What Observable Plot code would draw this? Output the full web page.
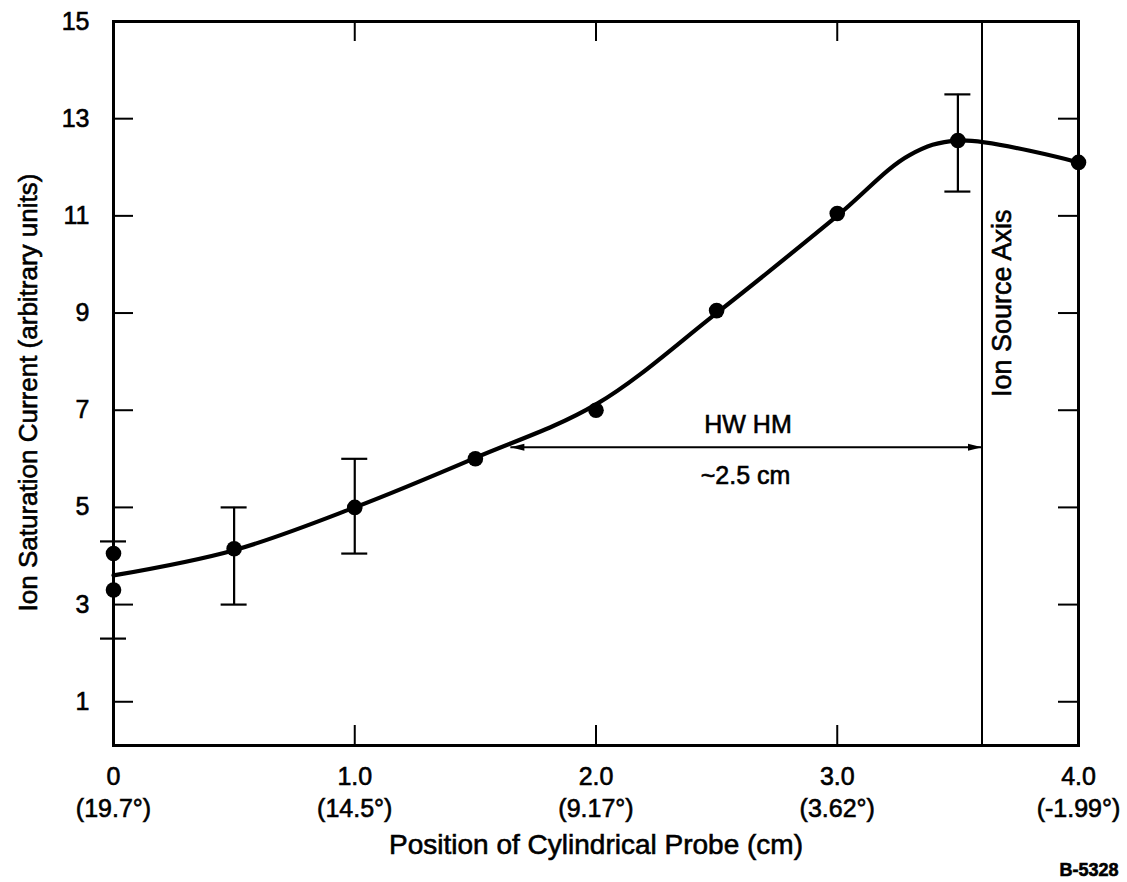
<!DOCTYPE html>
<html>
<head>
<meta charset="utf-8">
<script src="https://cdn.jsdelivr.net/npm/d3@7"></script>
<script src="https://cdn.jsdelivr.net/npm/@observablehq/plot@0.6"></script>
<style>
  html, body { margin: 0; padding: 0; background: #fff; }
  #chart svg text {
    font-family: "Liberation Sans", Arial, Helvetica, sans-serif;
    stroke: #000;
    stroke-width: 0.6px;
    paint-order: stroke;
  }
</style>
</head>
<body>
<div id="chart"></div>
<script>
// Probe position (cm) and measured ion saturation current (arbitrary units)
const positions = [0, 0, 0.5, 1.0, 1.5, 2.0, 2.5, 3.0, 3.5, 4.0];
const currents  = [4.05, 3.3, 4.15, 5.0, 6.0, 7.0, 9.05, 11.05, 12.55, 12.1];

// Error bars
const errPositions = [0, 0.5, 1.0, 3.5];
const errLow  = [2.3, 3.0, 4.05, 11.5];
const errHigh = [4.3, 5.0, 6.0, 13.5];

// Hand-drawn smooth fit through the measurements
const fitPositions = [0, 0.5, 1.0, 1.5, 2.0, 2.5, 3.0, 3.3, 3.5, 4.0];
const fitCurrents  = [3.6, 4.12, 5.0, 6.02, 7.12, 9.0, 11.0, 12.25, 12.55, 12.1];

// Axis ticks and labels
const xTicks = [0, 1, 2, 3, 4];
const xTickLabels = ["0", "1.0", "2.0", "3.0", "4.0"];
const xAngleLabels = ["(19.7°)", "(14.5°)", "(9.17°)", "(3.62°)", "(-1.99°)"];
const xInnerTicks = [1, 2, 3];
const yTicks = [1, 3, 5, 7, 9, 11, 13, 15];
const yInnerTicks = [1, 3, 5, 7, 9, 11, 13];

// Ion source axis and half width at half maximum
const sourceAxis = 3.6;
const sourceLabel = ["Ion Source Axis"];
const hwhmStart = 1.645;
const hwhmLevel = 6.24;
const annotations = [
  {x: 2.63, y: 6.7, text: "HW HM"},
  {x: 2.62, y: 5.65, text: "~2.5 cm"}
];

const xTitle = ["Position of Cylindrical Probe (cm)"];
const yTitle = ["Ion Saturation Current (arbitrary units)"];
const figureCode = ["B-5328"];

const xDomain = [0, 4];
const yDomain = [0.1, 15];

const points = positions.map((x, i) => ({x, y: currents[i]}));
const errors = errPositions.map((x, i) => ({x, low: errLow[i], high: errHigh[i]}));
const fit = fitPositions.map((x, i) => ({x, y: fitCurrents[i]}));

// double-headed dimension arrow: shaft plus a filled head at each end
const hwhmShaft = [{x1: hwhmStart, x2: sourceAxis, y: hwhmLevel}];
const hwhmHeads = [
  {x: hwhmStart, y: hwhmLevel, dir: -90},
  {x: sourceAxis, y: hwhmLevel, dir: 90}
];
const filledHead = {
  draw(context, l) {
    context.moveTo(0, -l);
    context.lineTo(-3.5, 0);
    context.lineTo(3.5, 0);
    context.closePath();
  }
};

const chart = Plot.plot({
  width: 1127,
  height: 882,
  marginLeft: 113,
  marginRight: 49,
  marginTop: 21,
  marginBottom: 137,
  style: {background: "#fff", color: "#000", fontFamily: "Liberation Sans, Arial, sans-serif"},
  x: {domain: xDomain},
  y: {domain: yDomain},
  marks: [
    // tick labels
    Plot.axisY({ticks: yTicks, tickSize: 0, tickPadding: 24, fontSize: 25, label: null}),
    Plot.axisX({ticks: xTicks, tickSize: 0, tickPadding: 22, fontSize: 25, label: null,
      tickFormat: d => xTickLabels[xTicks.indexOf(d)]}),
    Plot.axisX({ticks: xTicks, tickSize: 0, tickPadding: 54, fontSize: 25, label: null,
      tickFormat: d => xAngleLabels[xTicks.indexOf(d)]}),

    // inward tick marks on all four sides
    Plot.ruleY(yInnerTicks, {y: d => d, x1: xDomain[0], x2: xDomain[0], insetRight: -20, strokeWidth: 2}),
    Plot.ruleY(yInnerTicks, {y: d => d, x1: xDomain[1], x2: xDomain[1], insetLeft: -20, strokeWidth: 2}),
    Plot.ruleX(xInnerTicks, {x: d => d, y1: yDomain[0], y2: yDomain[0], insetTop: -20, strokeWidth: 2}),
    Plot.ruleX(xInnerTicks, {x: d => d, y1: yDomain[1], y2: yDomain[1], insetBottom: -20, strokeWidth: 2}),

    // ion source axis
    Plot.ruleX([sourceAxis], {x: d => d, strokeWidth: 2}),
    Plot.text(sourceLabel, {x: sourceAxis, y: 9.2, text: d => d, rotate: -90, dx: 20, fontSize: 27}),

    // HWHM arrow and labels
    Plot.link(hwhmShaft, {x1: "x1", x2: "x2", y1: "y", y2: "y", strokeWidth: 2}),
    Plot.vector(hwhmHeads, {x: "x", y: "y", rotate: "dir", length: 14, anchor: "end",
      shape: filledHead, fill: "#000", stroke: "none"}),
    Plot.text(annotations, {x: "x", y: "y", text: "text", fontSize: 25}),

    // error bars with caps
    Plot.ruleX(errors, {x: "x", y1: "low", y2: "high", strokeWidth: 2.2}),
    Plot.ruleY(errors, {y: "low", x1: "x", x2: "x", insetLeft: -13, insetRight: -13, strokeWidth: 2.2}),
    Plot.ruleY(errors, {y: "high", x1: "x", x2: "x", insetLeft: -13, insetRight: -13, strokeWidth: 2.2}),

    // fitted curve and measurements
    Plot.line(fit, {x: "x", y: "y", curve: "catmull-rom", strokeWidth: 4.2}),
    Plot.dot(points, {x: "x", y: "y", r: 7.8, fill: "#000"}),

    Plot.frame({strokeWidth: 3}),

    // titles
    Plot.text(yTitle, {frameAnchor: "left", text: d => d, textAnchor: "middle", lineAnchor: "middle",
      rotate: -90, dx: -85, dy: 9, fontSize: 26}),
    Plot.text(xTitle, {frameAnchor: "bottom", text: d => d, textAnchor: "middle", lineAnchor: "middle",
      dy: 100, fontSize: 28}),
    Plot.text(figureCode, {frameAnchor: "bottom-right", text: d => d, textAnchor: "end", lineAnchor: "middle",
      dx: 40, dy: 125, fontSize: 18, fontWeight: "bold"})
  ]
});

document.getElementById("chart").appendChild(chart);
</script>
</body>
</html>
